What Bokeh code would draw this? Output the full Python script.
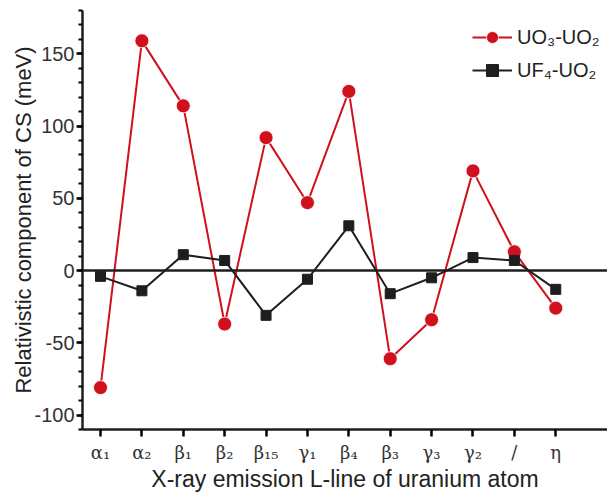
from bokeh.plotting import figure
from bokeh.models import Range1d, FixedTicker, Span, Legend, LegendItem, ColumnDataSource
from bokeh.embed import file_html
from bokeh.resources import INLINE

categories = ["α₁", "α₂", "β₁", "β₂", "β₁₅", "γ₁", "β₄", "β₃", "γ₃", "γ₂", "/", "η"]
uo3_uo2 = [-81, 159, 114, -37, 92, 47, 124, -61, -34, 69, 13, -26]
uf4_uo2 = [-4, -14, 11, 7, -31, -6, 31, -16, -5, 9, 7, -13]
y_ticks = [-100, -50, 0, 50, 100, 150]

xs = list(range(len(categories)))
src = ColumnDataSource(dict(x=xs, a=uo3_uo2, b=uf4_uo2))

FONT = "Liberation Sans"
RED = "#d0101c"
BLK = "#1e1e1e"

p = figure(width=607, height=494, output_backend="svg", toolbar_location=None,
           x_range=Range1d(-0.435, 12.25), y_range=Range1d(-110, 180),
           min_border_left=82, min_border_right=0, min_border_top=10, min_border_bottom=64)
p.outline_line_color = None
p.grid.visible = False
p.background_fill_color = "white"

zero = Span(location=0, dimension="width", line_color=BLK, line_width=2.5)
p.add_layout(zero)

r1l = p.line("x", "a", source=src, line_color=RED, line_width=2)
r1m = p.scatter("x", "a", source=src, marker="circle", size=14, fill_color=RED, line_color="white", line_width=0.8)
r2l = p.line("x", "b", source=src, line_color=BLK, line_width=2)
r2m = p.scatter("x", "b", source=src, marker="square", size=10, fill_color=BLK, line_color=BLK)

# y axis
ya = p.yaxis[0]
ya.ticker = FixedTicker(ticks=y_ticks, minor_ticks=list(range(-110, 181, 10)))
ya.major_label_overrides = {t: str(t) for t in y_ticks}
ya.axis_label = "Relativistic component of CS (meV)"
ya.axis_label_text_font = FONT
ya.axis_label_text_font_size = "22px"
ya.axis_label_text_font_style = "normal"
ya.axis_label_text_color = "#222222"
ya.axis_label_standoff = -5
ya.major_label_text_font = FONT
ya.major_label_text_font_size = "20px"
ya.major_label_text_color = "#333333"
ya.major_label_standoff = 2
ya.axis_line_width = 2.5
ya.axis_line_color = BLK
ya.major_tick_line_width = 2.5
ya.minor_tick_line_width = 2
ya.major_tick_out = 6
ya.major_tick_in = 0
ya.minor_tick_out = 4
ya.minor_tick_in = 0

# x axis
xa = p.xaxis[0]
xa.ticker = FixedTicker(ticks=xs, minor_ticks=[])
xa.major_label_overrides = {i: c for i, c in enumerate(categories)}
xa.axis_label = "X-ray emission L-line of uranium atom"
xa.axis_label_text_font = FONT
xa.axis_label_text_font_size = "23px"
xa.axis_label_text_font_style = "normal"
xa.axis_label_text_color = "#222222"
xa.axis_label_standoff = 0
xa.major_label_text_font = "DejaVu Serif"
xa.major_label_text_font_size = "18px"
xa.major_label_text_color = "#333333"
xa.major_label_standoff = 5
xa.axis_line_width = 2.5
xa.axis_line_color = BLK
xa.major_tick_line_width = 2.5
xa.major_tick_out = 7
xa.major_tick_in = 0

legend = Legend(items=[LegendItem(label="UO₃-UO₂", renderers=[r1l, r1m]),
                       LegendItem(label="UF₄-UO₂", renderers=[r2l, r2m])],
                location=(390, 344), orientation="vertical")
legend.glyph_width = 40
legend.glyph_height = 30
legend.spacing = 3
legend.padding = 0
legend.margin = 0
legend.label_standoff = 5
legend.label_text_font = FONT
legend.label_text_font_size = "20px"
legend.label_text_color = "#222222"
legend.border_line_color = None
legend.background_fill_alpha = 0
p.add_layout(legend)

open("out.html", "w").write(file_html(p, INLINE))
